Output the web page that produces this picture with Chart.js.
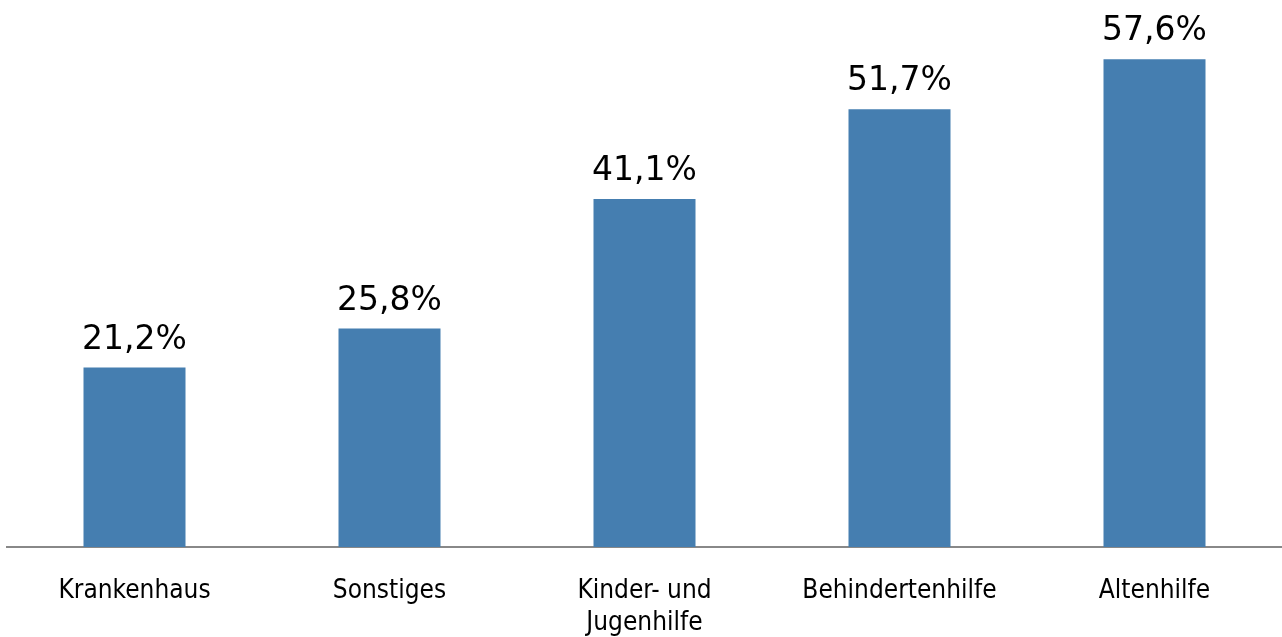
<!DOCTYPE html>
<html>
<head>
<meta charset="utf-8">
<script src="https://cdn.jsdelivr.net/npm/chart.js@4"></script>
<style>
  html, body { margin: 0; padding: 0; background: #fff; }
  #wrap { width: 1282px; height: 637px; }
</style>
</head>
<body>
<div id="wrap"><canvas id="chart"></canvas></div>
<script>
// Data
const categories = ['Krankenhaus', 'Sonstiges', ['Kinder- und', 'Jugenhilfe'], 'Behindertenhilfe', 'Altenhilfe'];
const values = [21.2, 25.8, 41.1, 51.7, 57.6];

function formatPct(v) {
    return v.toFixed(1).replace('.', ',') + '%';
}

// draw value labels above each bar
const valueLabels = {
    id: 'valueLabels',
    afterDatasetsDraw(chart) {
        const ctx = chart.ctx;
        const meta = chart.getDatasetMeta(0);
        ctx.save();
        ctx.font = '33px "DejaVu Sans", Verdana, sans-serif';
        ctx.fillStyle = '#000';
        ctx.textAlign = 'center';
        ctx.textBaseline = 'alphabetic';
        meta.data.forEach((bar, i) => {
            ctx.fillText(formatPct(values[i]), bar.x, bar.y - 19);
        });
        ctx.restore();
    }
};

new Chart(document.getElementById('chart'), {
    type: 'bar',
    data: {
        labels: categories,
        datasets: [{
            data: values,
            backgroundColor: '#457EB0',
            barPercentage: 0.4,
            categoryPercentage: 1.0
        }]
    },
    options: {
        responsive: true,
        maintainAspectRatio: false,
        animation: false,
        layout: { padding: { top: 39, left: 7, right: 0, bottom: 0 } },
        plugins: {
            legend: { display: false },
            tooltip: { enabled: false }
        },
        scales: {
            y: {
                display: false,
                min: 0,
                max: 60
            },
            x: {
                grid: { display: false, drawTicks: false },
                border: { display: true, color: '#888888', width: 2 },
                afterFit(scale) { scale.height = 90; },
                ticks: {
                    color: '#000',
                    padding: 28,
                    font: { family: '"DejaVu Sans Condensed", "DejaVu Sans", sans-serif', size: 26, lineHeight: 1.23 },
                    maxRotation: 0,
                    autoSkip: false
                }
            }
        }
    },
    plugins: [valueLabels]
});
</script>
</body>
</html>
